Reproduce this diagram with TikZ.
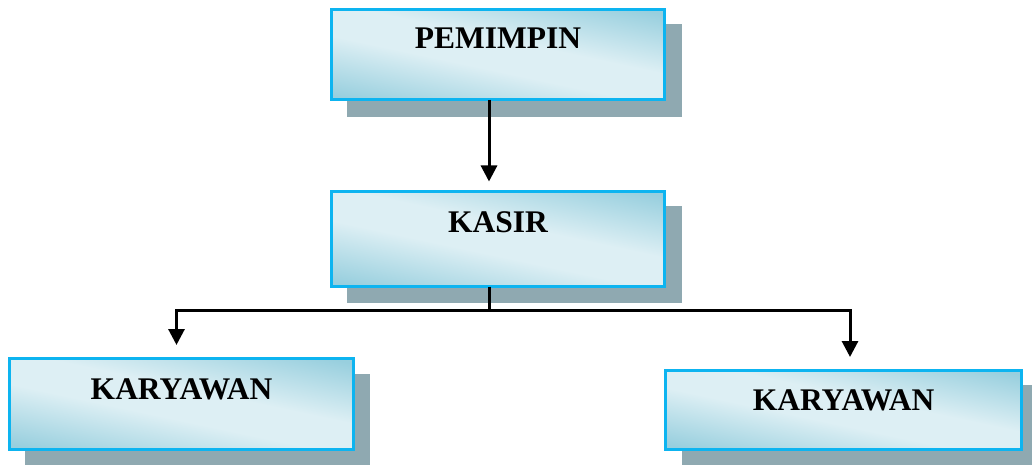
\documentclass[tikz,border=0pt]{standalone}
\usepackage{fontspec}
\setmainfont{Liberation Serif}
\usetikzlibrary{arrows.meta}
\definecolor{bdr}{HTML}{0DB4F0}
\definecolor{shd}{HTML}{8FA9B1}
\definecolor{dk}{HTML}{98CFDE}
\definecolor{lt}{HTML}{DDEFF4}
\pgfdeclareverticalshading{boxshade}{100bp}{color(0bp)=(dk); color(22bp)=(dk); color(44bp)=(lt); color(56bp)=(lt); color(78bp)=(dk); color(100bp)=(dk)}
\tikzset{
  orgbox/.style={draw=bdr, line width=3pt, shading=boxshade, shading angle=-12, inner sep=0pt, outer sep=0pt, align=center,
    font=\fontsize{31.5}{36}\selectfont\bfseries},
  arr/.style={line width=3pt, -{Triangle[width=16pt,length=16pt]}},
  ln/.style={line width=3pt}
}
\begin{document}
\begin{tikzpicture}[x=1pt,y=-1pt]
\useasboundingbox (0,0) rectangle (1032,465);
% shadows
\fill[shd] (347,24) rectangle (682,117);
\fill[shd] (347,206) rectangle (682,303);
\fill[shd] (25,374) rectangle (370,465);
\fill[shd] (682,385) rectangle (1032,465);
% boxes
\node[orgbox, minimum width=333pt, text width=333pt, text height=39.5pt, text depth=51pt, anchor=north west] (p) at (331.5,9.5) {PEMIMPIN};
\node[orgbox, minimum width=333pt, text width=333pt, text height=41pt, text depth=54pt, anchor=north west] (k) at (331.5,191.5) {KASIR};
\node[orgbox, minimum width=344pt, text width=344pt, text height=40.5pt, text depth=50pt, anchor=north west] (l) at (9.5,358.5) {KARYAWAN};
\node[orgbox, minimum width=356pt, text width=356pt, text height=39.5pt, text depth=39pt, anchor=north west] (r) at (665.5,370.5) {KARYAWAN};
% connectors
\coordinate (j) at (489,310.5);
\coordinate (la) at (176.5,345);
\coordinate (ra) at (850,357);
\draw[arr, shorten >=10pt] (j |- p.south) -- (j |- k.north);
\draw[ln] (j |- k.south) -- (j);
\draw[arr] (j) -| (la);
\draw[arr] (j) -| (ra);
\end{tikzpicture}
\end{document}
